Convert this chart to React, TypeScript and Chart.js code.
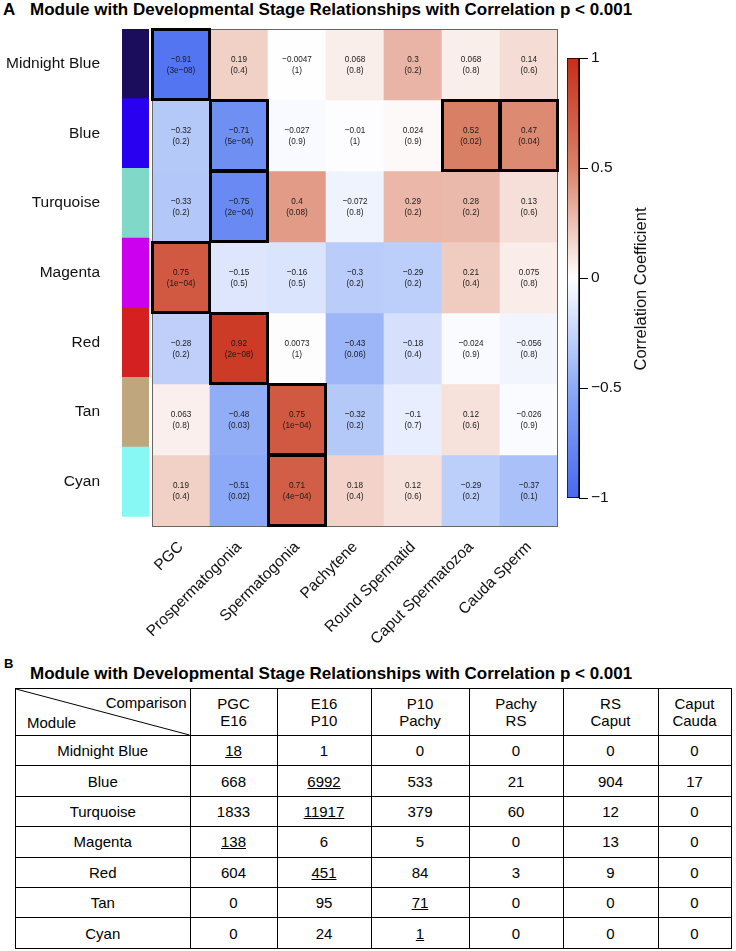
import React, { useEffect, useRef } from "react";
import { Chart, registerables } from "chart.js";

Chart.register(...registerables);

const FONT = '"Liberation Sans", Arial, Helvetica, sans-serif';

// ---------------- data: panel A ----------------
const modules = ["Midnight Blue", "Blue", "Turquoise", "Magenta", "Red", "Tan", "Cyan"];
const moduleColors = ["#1c0c5c", "#2a00f0", "#7fd8c8", "#cc00ee", "#d42020", "#bfa67c", "#88f8f4"];
const stages = [
  "PGC",
  "Prospermatogonia",
  "Spermatogonia",
  "Pachytene",
  "Round Spermatid",
  "Caput Spermatozoa",
  "Cauda Sperm",
];

const corrMidnightBlue = [-0.91, 0.19, -0.0047, 0.068, 0.3, 0.068, 0.14];
const corrBlue = [-0.32, -0.71, -0.027, -0.01, 0.024, 0.52, 0.47];
const corrTurquoise = [-0.33, -0.75, 0.4, -0.072, 0.29, 0.28, 0.13];
const corrMagenta = [0.75, -0.15, -0.16, -0.3, -0.29, 0.21, 0.075];
const corrRed = [-0.28, 0.92, 0.0073, -0.43, -0.18, -0.024, -0.056];
const corrTan = [0.063, -0.48, 0.75, -0.32, -0.1, 0.12, -0.026];
const corrCyan = [0.19, -0.51, 0.71, 0.18, 0.12, -0.29, -0.37];

const pMidnightBlue = ["3e−08", "0.4", "1", "0.8", "0.2", "0.8", "0.6"];
const pBlue = ["0.2", "5e−04", "0.9", "1", "0.9", "0.02", "0.04"];
const pTurquoise = ["0.2", "2e−04", "0.08", "0.8", "0.2", "0.2", "0.6"];
const pMagenta = ["1e−04", "0.5", "0.5", "0.2", "0.2", "0.4", "0.8"];
const pRed = ["0.2", "2e−08", "1", "0.06", "0.4", "0.9", "0.8"];
const pTan = ["0.8", "0.03", "1e−04", "0.2", "0.7", "0.6", "0.9"];
const pCyan = ["0.4", "0.02", "4e−04", "0.4", "0.6", "0.2", "0.1"];

// [row, column] of the cells outlined in black
const boxedCells = [[0, 0], [1, 1], [1, 5], [1, 6], [2, 1], [3, 0], [4, 1], [5, 2], [6, 2]];

const colorbarTicks = [-1, -0.5, 0, 0.5, 1];

// ---------------- data: panel B ----------------
const comparisonTop = ["PGC", "E16", "P10", "Pachy", "RS", "Caput"];
const comparisonBottom = ["E16", "P10", "Pachy", "RS", "Caput", "Cauda"];
const countsMidnightBlue = [18, 1, 0, 0, 0, 0];
const countsBlue = [668, 6992, 533, 21, 904, 17];
const countsTurquoise = [1833, 11917, 379, 60, 12, 0];
const countsMagenta = [138, 6, 5, 0, 13, 0];
const countsRed = [604, 451, 84, 3, 9, 0];
const countsTan = [0, 95, 71, 0, 0, 0];
const countsCyan = [0, 24, 1, 0, 0, 0];
const underlinedColumn = [0, 1, 1, 0, 1, 2, 2];

const corr = [corrMidnightBlue, corrBlue, corrTurquoise, corrMagenta, corrRed, corrTan, corrCyan];
const pvals = [pMidnightBlue, pBlue, pTurquoise, pMagenta, pRed, pTan, pCyan];
const counts = [countsMidnightBlue, countsBlue, countsTurquoise, countsMagenta, countsRed, countsTan, countsCyan];

const TITLE = "Module with Developmental Stage Relationships with Correlation p < 0.001";

// ---------------- styling helpers ----------------
const colorStops: [number, number[]][] = [
  [-1, [70, 105, 240]],
  [-0.5, [140, 170, 246]],
  [0, [255, 255, 255]],
  [0.5, [218, 130, 105]],
  [1, [200, 45, 25]],
];

function corrColor(v: number): string {
  for (let i = 0; i < colorStops.length - 1; i++) {
    const [a, ca] = colorStops[i];
    const [b, cb] = colorStops[i + 1];
    if (v >= a && v <= b) {
      const t = (v - a) / (b - a);
      const c = ca.map((x, k) => Math.round(x + (cb[k] - x) * t));
      return `rgb(${c[0]},${c[1]},${c[2]})`;
    }
  }
  return v < 0 ? "rgb(70,105,240)" : "rgb(200,45,25)";
}

const fmt = (v: number) => (v < 0 ? "−" + String(-v) : String(v));

// table column widths (layout)
const firstColW = 174.5;
const colW = [87, 94, 98, 94, 95, 73];

export default function App() {
  const modRef = useRef<HTMLCanvasElement>(null);
  const heatRef = useRef<HTMLCanvasElement>(null);
  const barRef = useRef<HTMLCanvasElement>(null);

  useEffect(() => {
    document.body.style.margin = "0";
    const charts: Chart[] = [];

    // ---- module colour strip with row labels ----
    charts.push(
      new Chart(modRef.current!, {
        type: "bar",
        data: {
          labels: modules,
          datasets: [
            {
              data: modules.map(() => 1),
              backgroundColor: moduleColors,
              borderWidth: 0,
              barPercentage: 1,
              categoryPercentage: 1,
            },
          ],
        },
        options: {
          indexAxis: "y",
          animation: false,
          responsive: false,
          maintainAspectRatio: false,
          layout: { padding: { left: 0, right: 1, top: 29, bottom: 14 } },
          plugins: { legend: { display: false }, tooltip: { enabled: false } },
          scales: {
            x: { display: false, min: 0, max: 1 },
            y: {
              grid: { display: false },
              border: { display: false },
              ticks: { color: "#111", font: { family: FONT, size: 15.5 }, padding: 14 },
              afterFit: (s: any) => {
                s.width = 122;
              },
            },
          },
        },
      })
    );

    // ---- heatmap ----
    const cellPlugin = {
      id: "cells",
      afterDatasetsDraw(chart: any) {
        const ctx = chart.ctx;
        const sx = 0.86;
        ctx.save();
        ctx.fillStyle = "#1a1a1a";
        ctx.font = `9.5px ${FONT}`;
        ctx.textAlign = "center";
        ctx.textBaseline = "middle";
        chart.data.datasets.forEach((_: any, r: number) => {
          const meta = chart.getDatasetMeta(r);
          meta.data.forEach((bar: any, c: number) => {
            const { x, y, base } = bar.getProps(["x", "y", "base"], true);
            const cy = (y + base) / 2;
            ctx.save();
            ctx.translate(x, cy);
            ctx.scale(sx, 1);
            ctx.fillText(fmt(corr[r][c]), 0, -5);
            ctx.fillText("(" + pvals[r][c] + ")", 0, 5.5);
            ctx.restore();
          });
        });
        // frame
        const a = chart.chartArea;
        ctx.strokeStyle = "#666";
        ctx.lineWidth = 1;
        ctx.strokeRect(a.left + 0.5, a.top + 0.5, a.right - a.left - 1, a.bottom - a.top);
        // outlined cells
        ctx.strokeStyle = "#000";
        ctx.lineWidth = 3;
        boxedCells.forEach(([r, c]) => {
          const bar = chart.getDatasetMeta(r).data[c];
          const { x, y, base, width } = bar.getProps(["x", "y", "base", "width"], true);
          const top = Math.min(y, base);
          const h = Math.abs(base - y);
          ctx.strokeRect(x - width / 2 + 0.5, top + 0.5, width - 1, h - 1);
        });
        ctx.restore();
      },
    };

    charts.push(
      new Chart(heatRef.current!, {
        type: "bar",
        data: {
          labels: stages,
          datasets: modules.map((m, r) => ({
            label: m,
            data: stages.map(() => 1),
            backgroundColor: corr[r].map(corrColor),
            borderWidth: 0,
            barPercentage: 1,
            categoryPercentage: 1,
          })),
        },
        options: {
          animation: false,
          responsive: false,
          maintainAspectRatio: false,
          layout: { padding: { left: 52, right: 12, top: 29, bottom: 14 } },
          plugins: { legend: { display: false }, tooltip: { enabled: false } },
          scales: {
            x: {
              stacked: true,
              grid: { display: false },
              border: { display: false },
              ticks: {
                autoSkip: false,
                minRotation: 45,
                maxRotation: 45,
                color: "#111",
                font: { family: FONT, size: 15.5 },
                padding: 4,
              },
              afterFit: (s: any) => {
                s.height = 120;
              },
            },
            y: { stacked: true, display: false, min: 0, max: 7, reverse: true },
          },
        },
        plugins: [cellPlugin],
      })
    );

    // ---- colour key ----
    const keyTitle = {
      id: "keyTitle",
      afterDraw(chart: any) {
        const ctx = chart.ctx;
        ctx.save();
        ctx.translate(101, 289);
        ctx.rotate(-Math.PI / 2);
        ctx.fillStyle = "#111";
        ctx.font = `16.5px ${FONT}`;
        ctx.textAlign = "center";
        ctx.textBaseline = "middle";
        ctx.fillText("Correlation Coefficient", 0, 0);
        ctx.restore();
      },
    };

    charts.push(
      new Chart(barRef.current!, {
        type: "bar",
        data: {
          labels: [""],
          datasets: [
            {
              data: [[colorbarTicks[0], colorbarTicks[colorbarTicks.length - 1]]] as any,
              backgroundColor: (c: any) => {
                const area = c.chart.chartArea;
                if (!area) return "#fff";
                const g = c.chart.ctx.createLinearGradient(0, area.bottom, 0, area.top);
                colorStops.forEach(([v, col]) => {
                  g.addColorStop((v + 1) / 2, `rgb(${col[0]},${col[1]},${col[2]})`);
                });
                return g;
              },
              borderColor: "#000",
              borderWidth: 1,
              borderSkipped: false,
              barPercentage: 1,
              categoryPercentage: 1,
            },
          ],
        },
        options: {
          animation: false,
          responsive: false,
          maintainAspectRatio: false,
          layout: { padding: { left: 27, right: 87, top: 58, bottom: 42 } },
          plugins: { legend: { display: false }, tooltip: { enabled: false } },
          scales: {
            x: { display: false },
            y: {
              position: "right",
              min: -1,
              max: 1,
              afterBuildTicks: (s: any) => {
                s.ticks = colorbarTicks.map((v) => ({ value: v }));
              },
              ticks: {
                color: "#111",
                font: { family: FONT, size: 15.5 },
                padding: 3,
                callback: (v: any) => fmt(Number(v)),
              },
              grid: { drawOnChartArea: false, drawTicks: true, tickLength: 9, color: "#000" },
              border: { display: true, color: "#000" },
              afterFit: (s: any) => {
                s.width = 70;
              },
            },
          },
        },
        plugins: [keyTitle],
      })
    );

    return () => charts.forEach((c) => c.destroy());
  }, []);

  const cellBorder = "1px solid #000";
  const rowH = 30.4;

  return (
    <div
      style={{
        position: "absolute",
        left: 0,
        top: 0,
        width: 736,
        height: 951,
        overflow: "hidden",
        background: "#fff",
        fontFamily: FONT,
        color: "#000",
      }}
    >
      {/* Panel A title */}
      <div style={{ position: "absolute", left: 3, top: 0, fontWeight: "bold", fontSize: 17, lineHeight: "19px" }}>A</div>
      <div style={{ position: "absolute", left: 30, top: 0, fontWeight: "bold", fontSize: 17, lineHeight: "19px", whiteSpace: "nowrap" }}>
        {TITLE}
      </div>

      <canvas ref={modRef} width={150} height={540} style={{ position: "absolute", left: 0, top: 0 }} />
      <canvas ref={heatRef} width={470} height={660} style={{ position: "absolute", left: 100, top: 0 }} />
      <canvas ref={barRef} width={196} height={540} style={{ position: "absolute", left: 540, top: 0 }} />

      {/* Panel B */}
      <div style={{ position: "absolute", left: 4, top: 656, fontWeight: "bold", fontSize: 13, lineHeight: "15px" }}>B</div>
      <div style={{ position: "absolute", left: 30, top: 664, fontWeight: "bold", fontSize: 17, lineHeight: "19px", whiteSpace: "nowrap" }}>
        {TITLE}
      </div>

      <table
        style={{
          position: "absolute",
          left: 15,
          top: 688,
          width: firstColW + colW.reduce((a, b) => a + b, 0),
          borderCollapse: "collapse",
          tableLayout: "fixed",
          fontSize: 15,
          fontFamily: FONT,
          border: "1.5px solid #000",
        }}
      >
        <colgroup>
          <col style={{ width: firstColW }} />
          {colW.map((w, i) => (
            <col key={i} style={{ width: w }} />
          ))}
        </colgroup>
        <thead>
          <tr style={{ height: 47 }}>
            <th style={{ border: cellBorder, padding: 0, position: "relative", fontWeight: "normal" }}>
              <svg width="100%" height="100%" style={{ position: "absolute", left: 0, top: 0 }}>
                <line x1="0" y1="0" x2="100%" y2="100%" stroke="#000" strokeWidth="1" />
              </svg>
              <span style={{ position: "absolute", right: 3, top: 5, lineHeight: "17px" }}>Comparison</span>
              <span style={{ position: "absolute", left: 11, bottom: 4, lineHeight: "17px" }}>Module</span>
            </th>
            {comparisonTop.map((t, i) => (
              <th key={i} style={{ border: cellBorder, padding: 0, fontWeight: "normal", lineHeight: "17px" }}>
                {t}
                <br />
                {comparisonBottom[i]}
              </th>
            ))}
          </tr>
        </thead>
        <tbody>
          {modules.map((m, r) => (
            <tr key={m} style={{ height: rowH }}>
              <td style={{ border: cellBorder, padding: 0, textAlign: "center" }}>{m}</td>
              {counts[r].map((v, c) => (
                <td
                  key={c}
                  style={{
                    border: cellBorder,
                    padding: 0,
                    textAlign: "center",
                    textDecoration: underlinedColumn[r] === c ? "underline" : "none",
                  }}
                >
                  {v}
                </td>
              ))}
            </tr>
          ))}
        </tbody>
      </table>
    </div>
  );
}
